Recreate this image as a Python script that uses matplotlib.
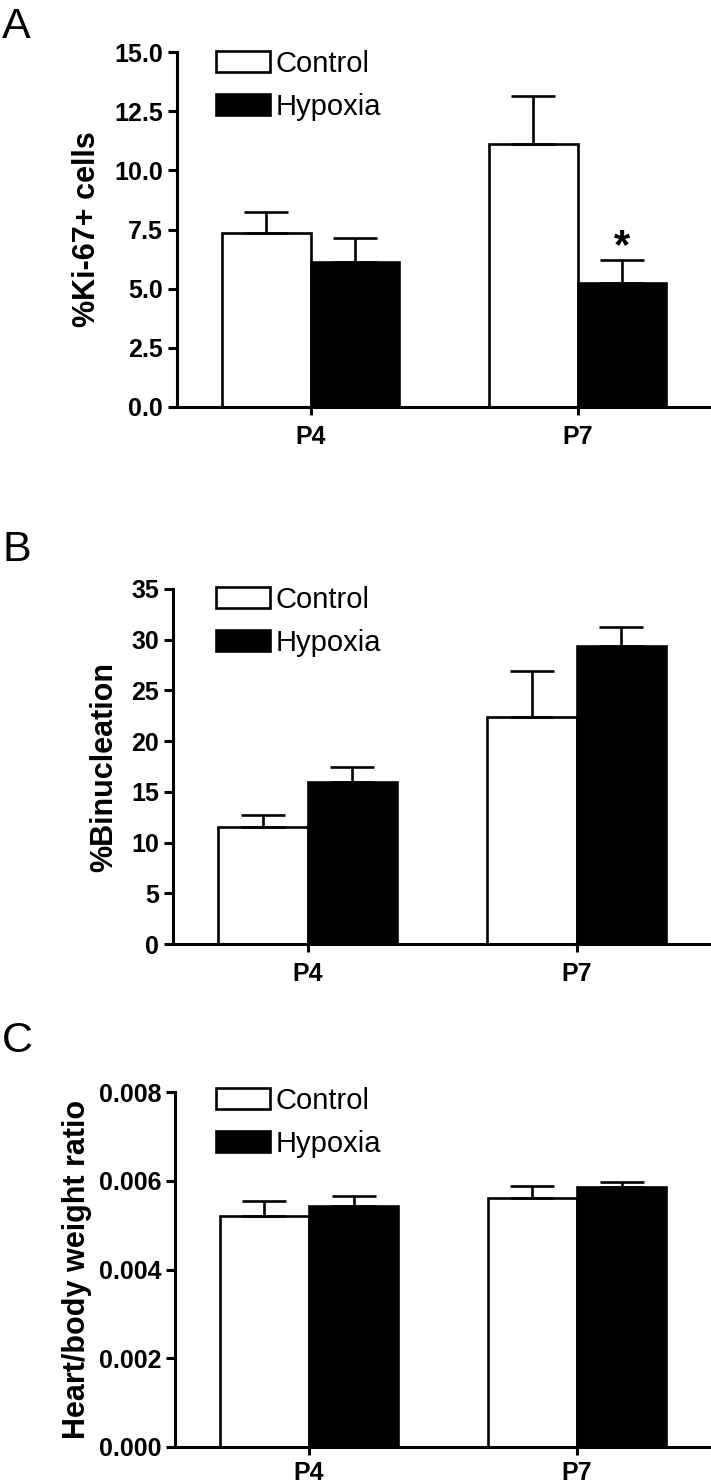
import matplotlib
matplotlib.use('Agg')
import matplotlib.pyplot as plt
from matplotlib.patches import Patch
import numpy as np

plt.rcParams['font.family'] = ['Liberation Sans', 'DejaVu Sans']

groups = ['P4', 'P7']
series = ['Control', 'Hypoxia']

# panel A: %Ki-67+ cells
ki67_mean = {'Control': [7.35, 11.1], 'Hypoxia': [6.12, 5.24]}
ki67_sem = {'Control': [0.87, 2.03], 'Hypoxia': [1.02, 0.97]}

# panel B: %Binucleation
binuc_mean = {'Control': [11.5, 22.4], 'Hypoxia': [16.0, 29.4]}
binuc_sem = {'Control': [1.2, 4.5], 'Hypoxia': [1.5, 1.9]}

# panel C: heart/body weight ratio
hbw_mean = {'Control': [0.00521, 0.00561], 'Hypoxia': [0.00543, 0.00586]}
hbw_sem = {'Control': [0.00033, 0.00027], 'Hypoxia': [0.00023, 0.00011]}

W, H = 711, 1484
fig = plt.figure(figsize=(W / 100, H / 100), dpi=100)

LW = 1.9
bar_w = 0.333
colors = {'Control': 'white', 'Hypoxia': 'black'}


def px_axes(left, top, bottom, right=711):
    return fig.add_axes([left / W, 1 - bottom / H, (right - left) / W, (bottom - top) / H])


def panel(ax, means, sems, ylim, yticks, fmt, ylabel, labx, legend_top, xpad):
    x = np.arange(len(groups))
    for i, s in enumerate(series):
        xs = x + (i - 0.5) * bar_w
        ax.bar(xs, means[s], bar_w, color=colors[s], edgecolor='black',
               linewidth=LW, zorder=2)
        ax.errorbar(xs, means[s], yerr=[np.zeros(len(groups)), sems[s]],
                    fmt='none', ecolor='black', elinewidth=LW, capsize=16,
                    capthick=LW, zorder=3)
    ax.set_xlim(-0.5, 1.5)
    ax.set_ylim(*ylim)
    ax.set_yticks(yticks)
    ax.set_yticklabels([fmt % v for v in yticks])
    ax.set_xticks(x)
    ax.set_xticklabels(groups)
    for sp in ['top', 'right']:
        ax.spines[sp].set_visible(False)
    for sp in ['left', 'bottom']:
        ax.spines[sp].set_linewidth(2.2)
    ax.tick_params(axis='y', length=6.5, width=2.2, pad=3.5, labelsize=18)
    ax.tick_params(axis='x', length=5.8, width=2.2, pad=xpad, labelsize=18)
    for lab in ax.get_xticklabels() + ax.get_yticklabels():
        lab.set_fontweight('bold')
    ax.set_ylabel(ylabel, fontsize=22, fontweight='bold')
    ax.yaxis.set_label_coords(labx, 0.5)
    handles = [Patch(facecolor=colors[s], edgecolor='black', linewidth=LW) for s in series]
    ax.legend(handles, series, loc='upper left', frameon=False, fontsize=21,
              bbox_to_anchor=(216 / W, 1 - legend_top / H), bbox_transform=fig.transFigure,
              borderpad=0, handlelength=1.85, handleheight=0.72, handletextpad=0.2,
              labelspacing=0.5, borderaxespad=0)


axA = px_axes(177, 52, 407)
panel(axA, ki67_mean, ki67_sem, (0, 15), [0, 2.5, 5, 7.5, 10, 12.5, 15], '%.1f',
      '%Ki-67+ cells', -0.14, 50, 7)
axA.text(1 + 0.5 * bar_w, ki67_mean['Hypoxia'][1] + ki67_sem['Hypoxia'][1] + 0.1, '*',
         ha='center', va='baseline', fontsize=30, fontweight='bold')

axB = px_axes(173, 589, 944)
panel(axB, binuc_mean, binuc_sem, (0, 35), [0, 5, 10, 15, 20, 25, 30, 35], '%d',
      '%Binucleation', -0.10, 586, 7)

axC = px_axes(175, 1092, 1447)
panel(axC, hbw_mean, hbw_sem, (0, 0.008), [0, 0.002, 0.004, 0.006, 0.008], '%.3f',
      'Heart/body weight ratio', -0.155, 1087, 4)

for letter, ytop in [('A', 7), ('B', 530), ('C', 1021)]:
    fig.text(2 / W, 1 - ytop / H, letter, fontsize=31, va='top', ha='left')

fig.savefig('out.png', dpi=100)
